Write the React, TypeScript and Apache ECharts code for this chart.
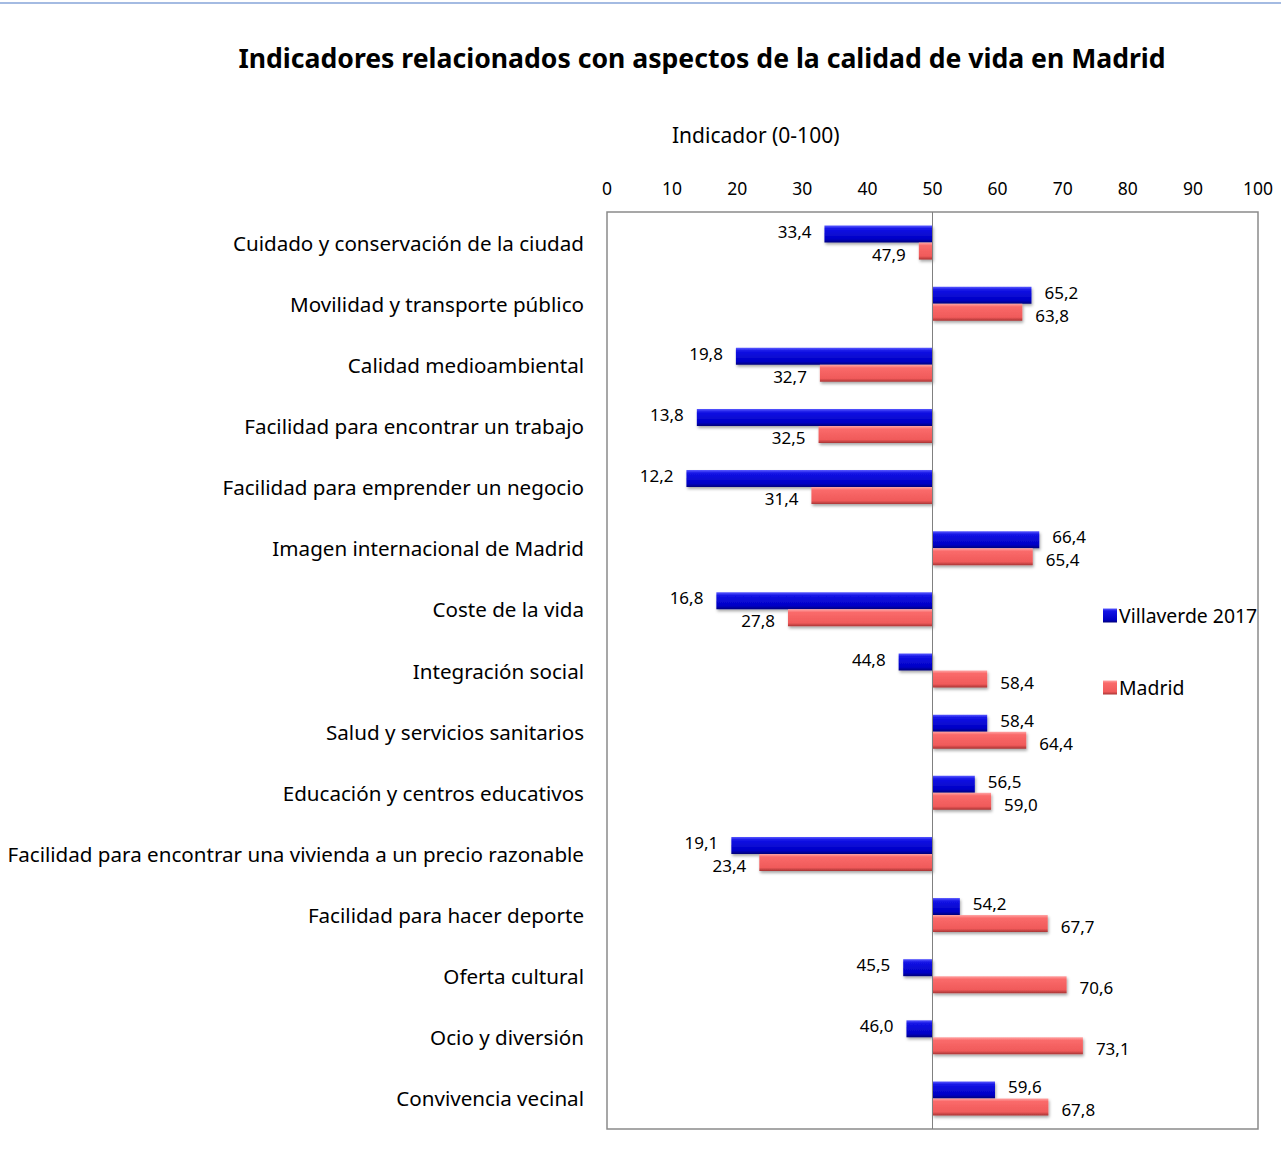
import React, { useEffect, useRef } from "react";
import * as echarts from "echarts";

const categories = [
  "Cuidado y conservación de la ciudad",
  "Movilidad y transporte público",
  "Calidad medioambiental",
  "Facilidad para encontrar un trabajo",
  "Facilidad para emprender un negocio",
  "Imagen internacional de Madrid",
  "Coste de la vida",
  "Integración social",
  "Salud y servicios sanitarios",
  "Educación y centros educativos",
  "Facilidad para encontrar una vivienda a un precio razonable",
  "Facilidad para hacer deporte",
  "Oferta cultural",
  "Ocio y diversión",
  "Convivencia vecinal",
];
const villaverde = [33.4, 65.2, 19.8, 13.8, 12.2, 66.4, 16.8, 44.8, 58.4, 56.5, 19.1, 54.2, 45.5, 46.0, 59.6];
const madrid = [47.9, 63.8, 32.7, 32.5, 31.4, 65.4, 27.8, 58.4, 64.4, 59.0, 23.4, 67.7, 70.6, 73.1, 67.8];
const seriesNames = ["Villaverde 2017", "Madrid"];
const xTicks = { min: 0, max: 100, interval: 10 };
const baseline = 50;
const title = "Indicadores relacionados con aspectos de la calidad de vida en Madrid";
const axisTitle = "Indicador (0-100)";

const FONT = "'Noto Sans', sans-serif";

const blueGrad = new echarts.graphic.LinearGradient(0, 0, 0, 1, [
  { offset: 0, color: "#5a5aff" },
  { offset: 0.18, color: "#1414e6" },
  { offset: 0.8, color: "#0000c4" },
  { offset: 1, color: "#00007a" },
]);
const redGrad = new echarts.graphic.LinearGradient(0, 0, 0, 1, [
  { offset: 0, color: "#ffa5a5" },
  { offset: 0.18, color: "#fa6a6a" },
  { offset: 0.8, color: "#f05a5a" },
  { offset: 1, color: "#a83434" },
]);

function makeSeries(values: number[], name: string, stack: string, grad: any, dy: number) {
  const base = values.map((v) => Math.min(v, baseline));
  const diff = values.map((v) => ({
    value: Math.abs(v - baseline),
    label: { position: v < baseline ? "left" : "right" },
  }));
  return [
    {
      name: name + "_base",
      type: "bar",
      stack,
      data: base,
      barWidth: 17,
      barGap: "0%",
      silent: true,
      itemStyle: { color: "rgba(0,0,0,0)" },
      emphasis: { disabled: true },
    },
    {
      name,
      type: "bar",
      stack,
      data: diff,
      barWidth: 17,
      barGap: "0%",
      itemStyle: {
        color: grad,
        shadowBlur: 3,
        shadowColor: "rgba(0,0,0,0.35)",
        shadowOffsetX: 1,
        shadowOffsetY: 2,
      },
      label: {
        show: true,
        distance: 13,
        offset: [0, dy],
        color: "#000",
        fontFamily: FONT,
        fontSize: 17,
        formatter: (p: any) => values[p.dataIndex].toFixed(1).replace(".", ","),
      },
    },
  ];
}

export default function App() {
  const ref = useRef<HTMLDivElement>(null);
  useEffect(() => {
    if (!ref.current) return;
    const chart = echarts.init(ref.current, null, { renderer: "svg" });
    const s1 = makeSeries(villaverde, seriesNames[0], "v", blueGrad, -3);
    const s2 = makeSeries(madrid, seriesNames[1], "m", redGrad, 3);
    (s1[1] as any).markLine = {
      silent: true,
      symbol: "none",
      label: { show: false },
      lineStyle: { color: "#808080", width: 1, type: "solid" },
      data: [{ xAxis: baseline }],
    };
    chart.setOption({
      animation: false,
      backgroundColor: "#ffffff",
      textStyle: { fontFamily: FONT },
      title: {
        text: title,
        left: 697,
        textAlign: "center",
        top: 39,
        textStyle: { fontFamily: FONT, fontWeight: "bold", fontSize: 26.6, color: "#000" },
      },
      graphic: [
        { type: "rect", shape: { x: 0, y: 2, width: 1281, height: 2 }, style: { fill: "#a4bbe2" } },
        {
          type: "text",
          left: 672,
          top: 124,
          style: { text: axisTitle, fontFamily: FONT, fontSize: 21, fill: "#000" },
        },
      ],
      legend: {
        data: seriesNames,
        orient: "vertical",
        left: 1098,
        top: 601,
        itemGap: 53,
        itemWidth: 14,
        itemHeight: 14,
        icon: "rect",
        textStyle: { fontFamily: FONT, fontSize: 19.4, color: "#000", padding: [0, 0, 0, -3] },
      },
      grid: {
        left: 607,
        right: 23,
        top: 212,
        bottom: 31,
        show: true,
        borderColor: "#8a8a8a",
        borderWidth: 1.5,
        containLabel: false,
      },
      xAxis: {
        type: "value",
        position: "top",
        min: xTicks.min,
        max: xTicks.max,
        interval: xTicks.interval,
        axisLine: { show: false },
        axisTick: { show: false },
        splitLine: { show: false },
        axisLabel: { color: "#000", fontSize: 17.5, fontFamily: FONT, margin: 15 },
      },
      yAxis: {
        type: "category",
        inverse: true,
        data: categories,
        axisLine: { show: false },
        axisTick: { show: false },
        axisLabel: { color: "#000", fontSize: 20.6, fontFamily: FONT, margin: 23 },
      },
      series: [...s1, ...s2],
    });
    return () => chart.dispose();
  }, []);
  return (
    <div
      ref={ref}
      style={{ position: "absolute", left: 0, top: 0, width: 1281, height: 1160 }}
    />
  );
}
